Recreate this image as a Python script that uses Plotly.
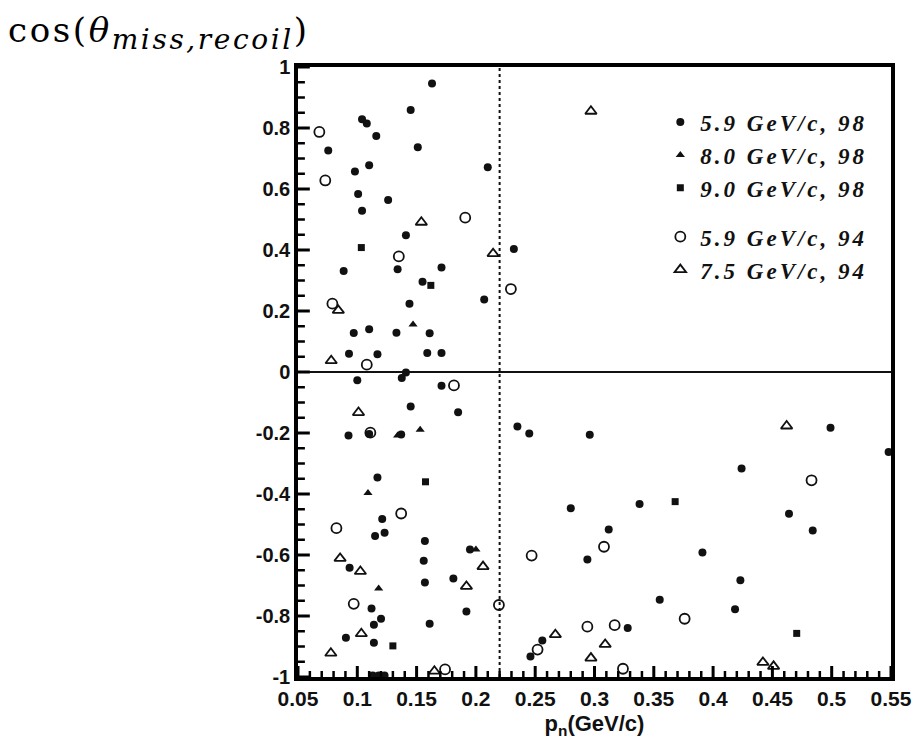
import plotly.graph_objects as go

# ---------------- data ----------------
# 5.9 GeV/c, 98  (filled circles)
A_X = [0.163, 0.145, 0.104, 0.108, 0.116, 0.151, 0.0755, 0.098, 0.110, 0.1007, 0.126, 0.104,
       0.141, 0.0885, 0.134, 0.171, 0.210, 0.232, 0.155, 0.207, 0.144, 0.097, 0.110, 0.133,
       0.161, 0.093, 0.117, 0.159, 0.171, 0.141, 0.1375, 0.100, 0.171, 0.145, 0.185, 0.0926,
       0.110, 0.137, 0.117, 0.121, 0.115, 0.123, 0.157, 0.156, 0.0935, 0.195, 0.157, 0.181,
       0.112, 0.192, 0.120, 0.114, 0.161, 0.0904, 0.114, 0.113, 0.118, 0.123,
       0.235, 0.245, 0.296, 0.280, 0.338, 0.312, 0.294, 0.391, 0.355, 0.328, 0.256, 0.246,
       0.499, 0.548, 0.424, 0.464, 0.484, 0.423, 0.4185]
A_Y = [0.946, 0.859, 0.829, 0.815, 0.774, 0.737, 0.726, 0.657, 0.678, 0.584, 0.564, 0.529,
       0.448, 0.331, 0.337, 0.343, 0.671, 0.403, 0.296, 0.238, 0.224, 0.128, 0.140, 0.129,
       0.127, 0.060, 0.058, 0.062, 0.062, -0.002, -0.020, -0.027, -0.045, -0.113, -0.132, -0.208,
       -0.203, -0.205, -0.346, -0.482, -0.538, -0.527, -0.554, -0.619, -0.642, -0.582, -0.690, -0.677,
       -0.775, -0.785, -0.809, -0.829, -0.825, -0.871, -0.888, -0.995, -0.995, -0.995,
       -0.179, -0.202, -0.206, -0.447, -0.433, -0.516, -0.615, -0.592, -0.747, -0.839, -0.880, -0.933,
       -0.183, -0.262, -0.316, -0.465, -0.520, -0.683, -0.778]

# 8.0 GeV/c, 98  (filled triangles)
B_X = [0.147, 0.153, 0.134, 0.109, 0.200, 0.118]
B_Y = [0.156, -0.189, -0.208, -0.397, -0.582, -0.710]

# 9.0 GeV/c, 98  (filled squares)
C_X = [0.1034, 0.162, 0.1575, 0.130, 0.368, 0.4705]
C_Y = [0.408, 0.284, -0.360, -0.898, -0.425, -0.857]

# 5.9 GeV/c, 94  (open circles)
D_X = [0.068, 0.073, 0.191, 0.135, 0.079, 0.108, 0.1815, 0.111, 0.137, 0.0824, 0.097, 0.174,
       0.2194, 0.247, 0.308, 0.376, 0.294, 0.317, 0.252, 0.324, 0.483, 0.2295]
D_Y = [0.787, 0.628, 0.506, 0.379, 0.224, 0.024, -0.044, -0.199, -0.464, -0.512, -0.760, -0.975,
       -0.764, -0.602, -0.573, -0.809, -0.835, -0.830, -0.910, -0.973, -0.355, 0.272]

# 7.5 GeV/c, 94  (open triangles)
E_X = [0.297, 0.154, 0.2145, 0.084, 0.078, 0.101, 0.0855, 0.1026, 0.206, 0.192, 0.1034, 0.0777,
       0.165, 0.267, 0.309, 0.297, 0.462, 0.442, 0.451]
E_Y = [0.855, 0.491, 0.388, 0.202, 0.037, -0.133, -0.611, -0.654, -0.638, -0.703, -0.858, -0.922,
       -0.981, -0.861, -0.893, -0.938, -0.177, -0.952, -0.965]

SERIES_NAMES = ["5.9 GeV/c, 98", "8.0 GeV/c, 98", "9.0 GeV/c, 98", "5.9 GeV/c, 94", "7.5 GeV/c, 94"]

X_TICKS = [0.05, 0.1, 0.15, 0.2, 0.25, 0.3, 0.35, 0.4, 0.45, 0.5, 0.55]
X_LABELS = ["0.05", "0.1", "0.15", "0.2", "0.25", "0.3", "0.35", "0.4", "0.45", "0.5", "0.55"]
Y_TICKS = [-1, -0.8, -0.6, -0.4, -0.2, 0, 0.2, 0.4, 0.6, 0.8, 1]
Y_LABELS = ["-1", "-0.8", "-0.6", "-0.4", "-0.2", "0", "0.2", "0.4", "0.6", "0.8", "1"]

CUT_X = 0.22
X_RANGE = [0.05, 0.55]
Y_RANGE = [-1, 1]

# minor tick positions (axis decoration only)
X_MINOR = [round(0.05 + 0.01 * i, 3) for i in range(51)]
Y_MINOR = [round(-1 + 0.05 * i, 3) for i in range(41)]

# ---------------- figure ----------------
INK = "#000000"
W, H = 924, 745
M = dict(l=298, r=24, t=67, b=68)
PLOT_W = W - M["l"] - M["r"]
PLOT_H = H - M["t"] - M["b"]

fig = go.Figure()

def add(xs, ys, name, symbol, size, group, lw=0):
    marker = dict(symbol=symbol, size=size, color="#111111", line=dict(color="#111111", width=lw))
    fig.add_trace(go.Scatter(x=xs, y=ys, mode="markers", marker=marker,
                             name="<span style='letter-spacing:3px'>%s</span>" % name,
                             legendgroup=group, cliponaxis=False))

add(A_X, A_Y, SERIES_NAMES[0], "circle", 8, "98")
add(B_X, B_Y, SERIES_NAMES[1], "triangle-up", 8, "98")
add(C_X, C_Y, SERIES_NAMES[2], "square", 7, "98")
add(D_X, D_Y, SERIES_NAMES[3], "circle-open", 10, "94", lw=1.8)
add(E_X, E_Y, SERIES_NAMES[4], "triangle-up-open", 10, "94", lw=1.8)

fig.add_shape(type="line", xref="x", yref="y", x0=CUT_X, x1=CUT_X, y0=-1, y1=1,
              line=dict(color="#111111", width=2, dash="dot"), layer="below")

# inside tick marks (drawn as axis-referenced line shapes at the tick values)
major_x = set(round(v, 3) for v in X_TICKS)
major_y = set(round(v, 3) for v in Y_TICKS)
for v in X_MINOR:
    is_major = round(v, 3) in major_x
    ln = 11 if is_major else 6
    fig.add_shape(type="line", xref="x", yref="paper", x0=v, x1=v, y0=0, y1=ln / PLOT_H,
                  line=dict(color=INK, width=3 if is_major else 2.5), layer="above")
for v in Y_MINOR:
    is_major = round(v, 3) in major_y
    ln = 12 if is_major else 7
    fig.add_shape(type="line", xref="paper", yref="y", x0=0, x1=ln / PLOT_W, y0=v, y1=v,
                  line=dict(color=INK, width=3 if is_major else 2.5), layer="above")

fig.update_layout(
    xaxis=dict(range=X_RANGE, tickmode="array", tickvals=X_TICKS, ticktext=X_LABELS,
               ticks="", showline=True, linewidth=3.5, linecolor=INK, mirror=True,
               showgrid=False, zeroline=False,
               tickfont=dict(family="Liberation Sans, Arial, sans-serif", size=21,
                             color="#111111", weight="bold"),
               title=dict(text="p<sub>n</sub>(GeV/c)",
                          font=dict(family="Liberation Sans, Arial, sans-serif", size=22,
                                    color="#111111", weight="bold"), standoff=8)),
    yaxis=dict(range=Y_RANGE, tickmode="array", tickvals=Y_TICKS, ticktext=Y_LABELS,
               ticks="", showline=True, linewidth=3.5, linecolor=INK, mirror=True,
               showgrid=False, zeroline=True, zerolinecolor="#111111", zerolinewidth=1.5,
               tickfont=dict(family="Liberation Sans, Arial, sans-serif", size=20,
                             color="#111111", weight="bold")),
)

fig.add_annotation(xref="paper", yref="paper", x=-0.4917, y=1.055, xanchor="left", yanchor="middle",
                   text="<span style='letter-spacing:2.6px'>cos(<i>θ</i><sub><span style='font-size:28px'>"
                        "<i>miss,recoil</i></span></sub>)</span>",
                   showarrow=False,
                   font=dict(family="DejaVu Serif, Liberation Serif, serif", size=34, color="#000"))

fig.update_layout(
    width=W, height=H,
    margin=M,
    paper_bgcolor="white", plot_bgcolor="white",
    showlegend=True,
    legend=dict(x=0.611, y=0.945, xanchor="left", yanchor="top",
                traceorder="grouped", tracegroupgap=16, bgcolor="rgba(0,0,0,0)",
                font=dict(family="Liberation Serif, Times New Roman, serif", size=23,
                          color="#111111", weight="bold", style="italic"),
                itemsizing="trace"),
)

fig.write_html("out.html", config={"displayModeBar": False})

# remove the default page margin so the figure sits at the window origin
with open("out.html", "r", encoding="utf-8") as f:
    html = f.read()
html = html.replace("<head>", "<head><style>html,body{margin:0;padding:0;overflow:hidden;}</style>", 1)
with open("out.html", "w", encoding="utf-8") as f:
    f.write(html)
